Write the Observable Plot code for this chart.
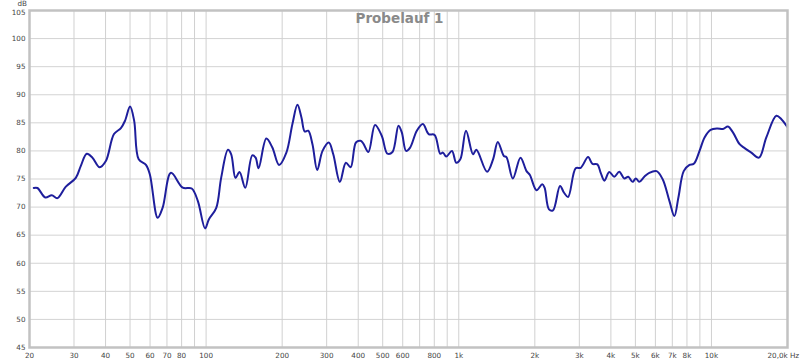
<!DOCTYPE html>
<html>
<head>
<meta charset="utf-8">
<script src="https://cdn.jsdelivr.net/npm/d3@7"></script>
<script src="https://cdn.jsdelivr.net/npm/@observablehq/plot@0.6"></script>
<style>
  html, body { margin: 0; padding: 0; background: #fff; }
  #chart svg { display: block; }
</style>
</head>
<body>
<div id="chart"></div>
<script>
// Frequency (Hz) and level (dB)
const freqs = [20.8, 21.5, 23.1, 24.5, 25.8, 27.8, 30.5, 31.9, 33.7, 35.5, 37.9, 40.1, 43.2, 46.0, 47.8, 50.0, 51.9, 54.1, 57.8, 59.9,
  64.3, 67.3, 72.6, 80.8, 87.7, 92.7, 99.1, 102.5, 109.6, 114.7, 122.0, 125.7, 130.7, 135.6, 142.9, 152.3, 157.0, 161.3, 173.1, 182.9,
  194.4, 207.8, 219.6, 229.9, 238.4, 245.8, 253.5, 263.6, 275.2, 288.9, 306.0, 318.6, 338.4, 357.4, 373.3, 391.8, 408.9, 419.2, 438.8, 466.2,
  495.5, 522.0, 546.6, 577.4, 595.0, 618.9, 641.9, 682.4, 721.1, 759.7, 802.4, 844.6, 865.7, 892.2, 939.8, 977.4, 1014, 1068, 1139, 1174,
  1294, 1367, 1427, 1508, 1544, 1637, 1755, 1854, 1912, 2031, 2140, 2186, 2275, 2360, 2516, 2610, 2708, 2902, 3038, 3250,
  3381, 3538, 3646, 3771, 3940, 4124, 4316, 4518, 4685, 4874, 5021, 5180, 5423, 5676, 6068, 6412, 6817, 7134, 7400, 7768,
  8186, 8515, 8972, 9393, 9921, 10538, 11103, 11622, 12162, 12928, 13532, 14374, 15426, 16492, 18070, 18920, 20000];
const levels = [73.4, 73.4, 71.7, 72.1, 71.6, 73.6, 75.2, 77.3, 79.5, 78.8, 77.1, 78.2, 83.0, 84.05, 85.4, 87.9, 85.4, 78.5, 77.5, 75.8,
  68.1, 69.9, 76.1, 73.45, 73.3, 71.1, 66.2, 67.8, 69.8, 75.2, 80.2, 79.4, 75.2, 76.25, 73.45, 79.2, 78.8, 76.9, 82.2, 80.6,
  77.5, 79.7, 84.8, 88.2, 85.95, 83.45, 83.6, 81.2, 76.6, 80.0, 81.5, 79.4, 74.5, 77.9, 77.1, 81.5, 81.8, 81.3, 79.8, 84.6,
  82.7, 79.5, 79.8, 84.5, 83.3, 80.0, 80.6, 83.6, 84.8, 83.0, 82.85, 79.5, 79.7, 79.0, 80.0, 77.9, 78.5, 83.6, 79.4, 80.2,
  76.3, 78.5, 81.6, 79.1, 78.9, 75.1, 78.8, 76.4, 75.7, 73.0, 74.05, 73.45, 69.6, 69.4, 73.75, 72.55, 71.8, 76.9, 77.0, 78.9,
  77.7, 77.6, 76.1, 74.7, 76.25, 75.4, 76.3, 75.1, 75.4, 74.5, 75.1, 74.5, 75.4, 76.1, 76.4, 74.95, 71.1, 68.4, 71.7, 76.4,
  77.5, 77.7, 80.0, 82.4, 83.75, 84.0, 83.9, 84.35, 83.3, 81.2, 80.5, 79.7, 78.8, 82.4, 86.25, 85.65, 84.2];

// Axis / grid definitions
const xGrid = [20, 30, 40, 50, 60, 70, 80, 90, 100, 200, 300, 400, 500, 600, 700, 800, 900, 1000,
  2000, 3000, 4000, 5000, 6000, 7000, 8000, 9000, 10000, 20000];
const xTickValues = [20, 30, 40, 50, 60, 70, 80, 100, 200, 300, 400, 500, 600, 800, 1000,
  2000, 3000, 4000, 5000, 6000, 7000, 8000, 10000];
const xTickLabels = ["20", "30", "40", "50", "60", "70", "80", "100", "200", "300", "400", "500", "600", "800", "1k",
  "2k", "3k", "4k", "5k", "6k", "7k", "8k", "10k"];
const xEndValue = 20000;
const xEndLabel = "20,0k Hz";
const yTicks = [45, 50, 55, 60, 65, 70, 75, 80, 85, 90, 95, 100];
const yTopTick = 105;
const yUnit = "dB";
const title = "Probelauf 1";

const data = freqs.map((f, i) => ({f, db: levels[i]}));
const xLabels = xTickValues.map((v, i) => ({v, label: xTickLabels[i]}));
const labelColor = "#444";
const labelSize = 7.2;

const chart = Plot.plot({
  width: 800,
  height: 362,
  marginLeft: 29,
  marginRight: 13,
  marginTop: 10,
  marginBottom: 15,
  style: {fontFamily: "DejaVu Sans", fontSize: "7.2px", color: labelColor, background: "#fff"},
  x: {type: "log", domain: [20, 20000], axis: null},
  y: {domain: [45, 105], axis: null},
  marks: [
    Plot.ruleY([...yTicks, yTopTick], {stroke: "#d3d3d3", strokeWidth: 1}),
    Plot.ruleX(xGrid, {stroke: "#d0d0d0", strokeWidth: 1}),
    Plot.text([title], {frameAnchor: "top", lineAnchor: "top", dx: -9, dy: 3, fontSize: 13.5, fontWeight: "bold", fill: "#8a8a8a", fontFamily: "DejaVu Sans"}),
    Plot.line(data, {x: "f", y: "db", stroke: "#1e1e9c", strokeWidth: 2, curve: "catmull-rom", clip: true}),
    Plot.frame({stroke: "#c2c2c2", strokeWidth: 2.5}),
    // y tick labels
    Plot.text(yTicks, {y: d => d, frameAnchor: "left", textAnchor: "end", lineAnchor: "middle", dx: -4, fill: labelColor, fontSize: labelSize}),
    Plot.text([yTopTick], {y: d => d, frameAnchor: "left", textAnchor: "end", lineAnchor: "middle", dx: -4, dy: 2, fill: labelColor, fontSize: labelSize}),
    // x tick labels
    Plot.text(xLabels, {x: "v", text: "label", frameAnchor: "bottom", textAnchor: "middle", lineAnchor: "top", dy: 5, fill: labelColor, fontSize: labelSize}),
    Plot.text([xEndLabel], {x: [xEndValue], frameAnchor: "bottom", textAnchor: "start", lineAnchor: "top", dx: -20, dy: 5, fill: labelColor, fontSize: labelSize}),
    Plot.text([yUnit], {frameAnchor: "top-left", textAnchor: "start", lineAnchor: "top", dx: -12, dy: -10, fill: labelColor, fontSize: labelSize})
  ]
});
document.getElementById("chart").append(chart);
</script>
</body>
</html>
